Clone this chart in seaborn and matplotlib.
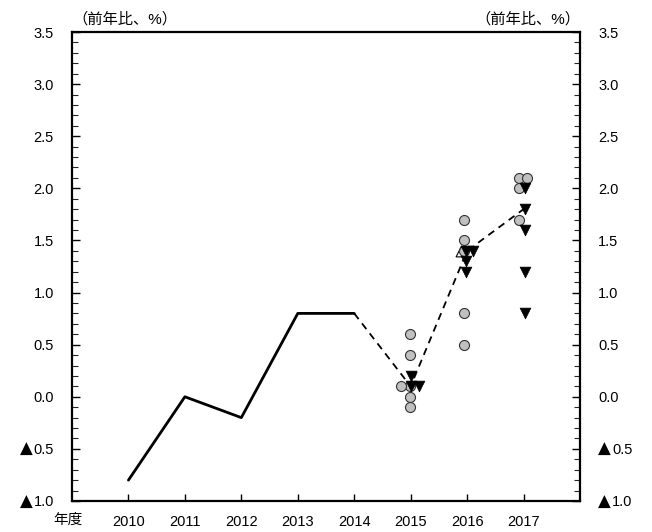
import numpy as np
import pandas as pd
import matplotlib
matplotlib.use("Agg")
import matplotlib.pyplot as plt
import matplotlib.transforms as mtransforms
import seaborn as sns
from matplotlib.ticker import MultipleLocator, FuncFormatter

sns.set_theme(style="white")
plt.rcParams['font.family'] = ['Liberation Sans', 'DejaVu Sans', 'Noto Sans CJK JP']

# Data
actual_years = [2010, 2011, 2012, 2013, 2014]
actual_vals = [-0.8, 0.0, -0.2, 0.8, 0.8]
median_years = [2014, 2015, 2016, 2017]
median_vals = [0.8, 0.1, 1.4, 1.8]

circ_2015 = [0.6, 0.4, 0.1, 0.1, 0.0, -0.1]
circ_2016 = [1.7, 1.5, 1.4, 0.8, 0.5]
circ_2017 = [2.1, 2.1, 2.0, 1.7]
tri_2015 = [0.2, 0.1, 0.1]
tri_2016 = [1.4, 1.4, 1.3, 1.2]
tri_2017 = [2.0, 1.8, 1.6, 1.2, 0.8]
open_year = [2016]
open_val = [1.4]

xtick_years = [2010, 2011, 2012, 2013, 2014, 2015, 2016, 2017]
xtick_labels = ["2010", "2011", "2012", "2013", "2014", "2015", "2016", "2017"]
year_word = "年度"
unit_label = "（前年比、%）"
neg_mark = "▲"


def spread(year, vals, base, step):
    xs, seen = [], {}
    for v in vals:
        k = seen.get(v, 0)
        seen[v] = k + 1
        xs.append(year + base + k * step)
    return xs


circ_df = pd.DataFrame({
    "x": spread(2015, circ_2015, -0.02, -0.15) + spread(2016, circ_2016, -0.05, 0.15) + spread(2017, circ_2017, -0.08, 0.14),
    "y": circ_2015 + circ_2016 + circ_2017,
})
tri_df = pd.DataFrame({
    "x": spread(2015, tri_2015, 0.0, 0.14) + spread(2016, tri_2016, -0.02, 0.12) + spread(2017, tri_2017, 0.03, 0.1),
    "y": tri_2015 + tri_2016 + tri_2017,
})

fig = plt.figure(figsize=(6.52, 5.32), dpi=100)
ax = fig.add_axes([72 / 652, 1 - 501 / 532, 508 / 652, 469 / 532])

sns.lineplot(x=actual_years, y=actual_vals, ax=ax, color="black", linewidth=2.0)
sns.lineplot(x=median_years, y=median_vals, ax=ax, color="black", linewidth=1.3,
             linestyle=(0, (4, 3)))
sns.scatterplot(data=circ_df, x="x", y="y", ax=ax, marker="o", s=52,
                color="#c0c0c0", edgecolor="#333333", linewidth=0.8, zorder=3)
sns.scatterplot(data=tri_df, x="x", y="y", ax=ax, marker="v", s=60,
                color="black", edgecolor="black", linewidth=0.5, zorder=4)
sns.scatterplot(x=[y - 0.1 for y in open_year], y=open_val, ax=ax, marker="^", s=60,
                color="white", edgecolor="black", linewidth=0.8, zorder=2)

ax.set_xlim(2009, 2018)
ax.set_ylim(-1.0, 3.5)
ax.set_xlabel("")
ax.set_ylabel("")

ax.set_xticks(xtick_years)
ax.set_xticklabels(xtick_labels)
ax.yaxis.set_major_locator(MultipleLocator(0.5))
ax.yaxis.set_minor_locator(MultipleLocator(0.1))


def fmt(v, pos):
    return "%.1f" % abs(v) if abs(v) > 1e-9 else "0.0"


ax.yaxis.set_major_formatter(FuncFormatter(fmt))
ax.tick_params(axis="y", which="major", direction="in", length=6, width=1.0,
               left=True, right=True, labelleft=True, labelright=True,
               labelsize=10.5, pad=13, colors="black")
ax.tick_params(axis="y", which="minor", direction="in", length=4, width=0.8,
               left=True, right=True)
ax.tick_params(axis="x", which="major", direction="in", length=5, width=1.0,
               bottom=True, labelsize=10.5, pad=10, colors="black")

for s in ax.spines.values():
    s.set_visible(True)
    s.set_color("black")
    s.set_linewidth(1.6)

ax.text(-0.008, -0.04, year_word, transform=ax.transAxes, ha="center", va="center",
        fontsize=10.5, color="black")
ax.text(0.0, 1.012, unit_label, transform=ax.transAxes, ha="left", va="bottom",
        fontsize=11, color="black")
ax.text(1.0, 1.012, unit_label, transform=ax.transAxes, ha="right", va="bottom",
        fontsize=11, color="black")

# Negative values: shift right-hand digits to make room, then add a large ▲ mark
MARK_W = 14 / 100.0  # inches
fig.canvas.draw()
neg_ticks = [t for t, loc in zip(ax.yaxis.get_major_ticks(), ax.yaxis.get_majorticklocs())
             if loc < -1e-9 and ax.get_ylim()[0] - 1e-9 <= loc]
for t in neg_ticks:
    t.label2.set_transform(t.label2.get_transform()
                           + mtransforms.ScaledTranslation(MARK_W, 0, fig.dpi_scale_trans))
fig.canvas.draw()
renderer = fig.canvas.get_renderer()
for t in neg_ticks:
    for lab in (t.label1, t.label2):
        bb = lab.get_window_extent(renderer)
        ymid = (bb.y0 + bb.y1) / 2 + 1
        fig.text((bb.x0 - 1) / fig.bbox.width, ymid / fig.bbox.height, neg_mark,
                 ha="right", va="center", fontsize=12,
                 family=['DejaVu Sans'], color="black")

fig.savefig("out.png", dpi=100)
